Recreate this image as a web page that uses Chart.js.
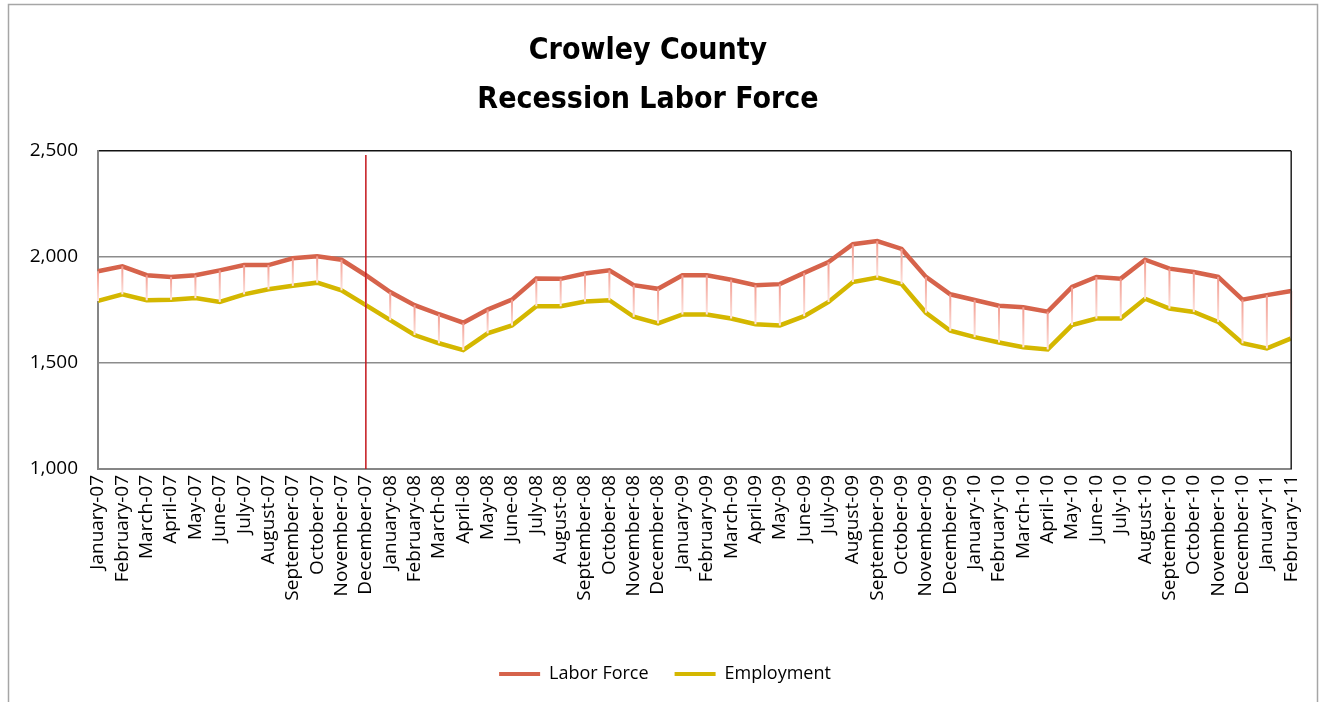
<!DOCTYPE html>
<html>
<head>
    <title>Crowley County Recession Labor Force</title>
    <script src="https://cdn.jsdelivr.net/npm/chart.js"></script>
    <style>
        body { margin: 0; background: #fff; }
        #wrap { width: 1320px; height: 702px; }
    </style>
</head>
<body>
<div id="wrap"><canvas id="laborChart" width="1320" height="702"></canvas></div>
<script>
    // month labels, Jan 2007 - Feb 2011
    var months = [
        'January-07', 'February-07', 'March-07', 'April-07', 'May-07', 'June-07',
        'July-07', 'August-07', 'September-07', 'October-07', 'November-07', 'December-07',
        'January-08', 'February-08', 'March-08', 'April-08', 'May-08', 'June-08',
        'July-08', 'August-08', 'September-08', 'October-08', 'November-08', 'December-08',
        'January-09', 'February-09', 'March-09', 'April-09', 'May-09', 'June-09',
        'July-09', 'August-09', 'September-09', 'October-09', 'November-09', 'December-09',
        'January-10', 'February-10', 'March-10', 'April-10', 'May-10', 'June-10',
        'July-10', 'August-10', 'September-10', 'October-10', 'November-10', 'December-10',
        'January-11', 'February-11'
    ];

    var laborForce = [
        1933, 1956, 1914, 1906, 1914, 1937, 1962, 1962, 1994, 2003, 1987, 1914,
        1835, 1773, 1730, 1690, 1752, 1799, 1898, 1897, 1922, 1937, 1867, 1850,
        1914, 1914, 1893, 1867, 1872, 1925, 1976, 2060, 2075, 2038, 1906, 1824,
        1797, 1770, 1763, 1742, 1859, 1906, 1898, 1987, 1945, 1929, 1906, 1799,
        1820, 1840
    ];

    var employment = [
        1793, 1824, 1796, 1798, 1806, 1788, 1824, 1848, 1864, 1879, 1843, 1773,
        1702, 1632, 1593, 1561, 1640, 1677, 1768, 1768, 1790, 1796, 1718, 1687,
        1729, 1729, 1710, 1683, 1677, 1721, 1788, 1882, 1903, 1872, 1737, 1652,
        1622, 1597, 1574, 1564, 1679, 1710, 1710, 1803, 1757, 1741, 1694, 1593,
        1569, 1616
    ];

    var yTicks = [1000, 1500, 2000, 2500];
    var recessionStart = 'December-07';

    var sans = "'Open Sans', 'Liberation Sans', sans-serif";

    // outer chart frame (gray, left/top/right); legend nudged to the right
    var framePlugin = {
        id: 'frame',
        afterLayout: function (chart) {
            chart.legend.left += 17;
            chart.legend.right += 17;
        },
        beforeDraw: function (chart) {
            var ctx = chart.ctx;
            ctx.save();
            ctx.fillStyle = '#fff';
            ctx.fillRect(0, 0, chart.width, chart.height);
            ctx.strokeStyle = '#a6a6a6';
            ctx.lineWidth = 1.5;
            ctx.beginPath();
            ctx.moveTo(8.5, chart.height);
            ctx.lineTo(8.5, 4.5);
            ctx.lineTo(1317.5, 4.5);
            ctx.lineTo(1317.5, chart.height);
            ctx.stroke();
            ctx.restore();
        }
    };

    // pink high-low lines between the two series + recession marker
    var hiLoPlugin = {
        id: 'hiLo',
        afterDatasetsDraw: function (chart) {
            var ctx = chart.ctx;
            var area = chart.chartArea;
            var top = chart.getDatasetMeta(0).data;
            var bot = chart.getDatasetMeta(1).data;
            ctx.save();
            ctx.lineWidth = 2;
            for (var i = 0; i < top.length; i++) {
                var g = ctx.createLinearGradient(0, top[i].y, 0, bot[i].y);
                g.addColorStop(0, '#f29a8e');
                g.addColorStop(1, '#fde4df');
                ctx.strokeStyle = g;
                ctx.beginPath();
                ctx.moveTo(top[i].x, top[i].y);
                ctx.lineTo(bot[i].x, bot[i].y);
                ctx.stroke();
            }
            // right edge of plot area
            ctx.strokeStyle = '#222';
            ctx.lineWidth = 1.5;
            ctx.beginPath();
            ctx.moveTo(area.right, area.top);
            ctx.lineTo(area.right, area.bottom);
            ctx.stroke();
            // recession start line
            var x = chart.scales.x.getPixelForValue(months.indexOf(recessionStart));
            ctx.strokeStyle = '#c4161c';
            ctx.lineWidth = 1.5;
            ctx.beginPath();
            ctx.moveTo(x, area.top + 4);
            ctx.lineTo(x, area.bottom);
            ctx.stroke();
            ctx.restore();
        }
    };

    var ctx = document.getElementById('laborChart').getContext('2d');
    new Chart(ctx, {
        type: 'line',
        data: {
            labels: months,
            datasets: [
                {
                    label: 'Labor Force',
                    data: laborForce,
                    borderColor: '#d6634b',
                    backgroundColor: '#d6634b',
                    borderWidth: 4.5,
                    pointRadius: 0,
                    tension: 0,
                    fill: false
                },
                {
                    label: 'Employment',
                    data: employment,
                    borderColor: '#d4b700',
                    backgroundColor: '#d4b700',
                    borderWidth: 4.5,
                    pointRadius: 0,
                    tension: 0,
                    fill: false
                }
            ]
        },
        options: {
            responsive: false,
            animation: false,
            layout: { padding: { left: 0, right: 24, top: 4, bottom: 9 } },
            plugins: {
                tooltip: { enabled: false },
                title: {
                    display: true,
                    text: ['Crowley County', 'Recession Labor Force'],
                    color: '#000',
                    font: { family: "'Liberation Sans Narrow', 'DejaVu Sans Condensed', sans-serif", size: 30, weight: 'bold', lineHeight: 1.65 },
                    padding: { top: 22, bottom: 26 }
                },
                legend: {
                    position: 'bottom',
                    labels: {
                        color: '#000',
                        font: { family: sans, size: 18 },
                        boxWidth: 41,
                        boxHeight: 4,
                        padding: 26,
                        generateLabels: function (chart) {
                            return Chart.defaults.plugins.legend.labels.generateLabels(chart).map(function (l) {
                                l.lineWidth = 0;
                                return l;
                            });
                        }
                    }
                }
            },
            scales: {
                x: {
                    offset: false,
                    grid: { display: false, drawTicks: false, offset: false },
                    border: { display: true, color: '#868686', width: 2 },
                    ticks: {
                        color: '#000',
                        font: { family: sans, size: 19 },
                        autoSkip: false,
                        maxRotation: 90,
                        minRotation: 90,
                        padding: 6
                    },
                    afterFit: function (scale) { scale.height = 170; }
                },
                y: {
                    min: yTicks[0],
                    max: yTicks[yTicks.length - 1],
                    afterBuildTicks: function (scale) {
                        scale.ticks = yTicks.map(function (v) { return { value: v }; });
                    },
                    grid: {
                        drawTicks: false,
                        lineWidth: 1.5,
                        color: function (c) { return c.tick && c.tick.value === 2500 ? '#111' : '#8c8c8c'; }
                    },
                    border: { display: true, color: '#868686', width: 2 },
                    ticks: {
                        color: '#000',
                        font: { family: sans, size: 19 },
                        padding: 20,
                        callback: function (v) { return v.toLocaleString('en-US'); }
                    },
                    afterFit: function (scale) { scale.width = 98; }
                }
            }
        },
        plugins: [framePlugin, hiLoPlugin]
    });
</script>
</body>
</html>
